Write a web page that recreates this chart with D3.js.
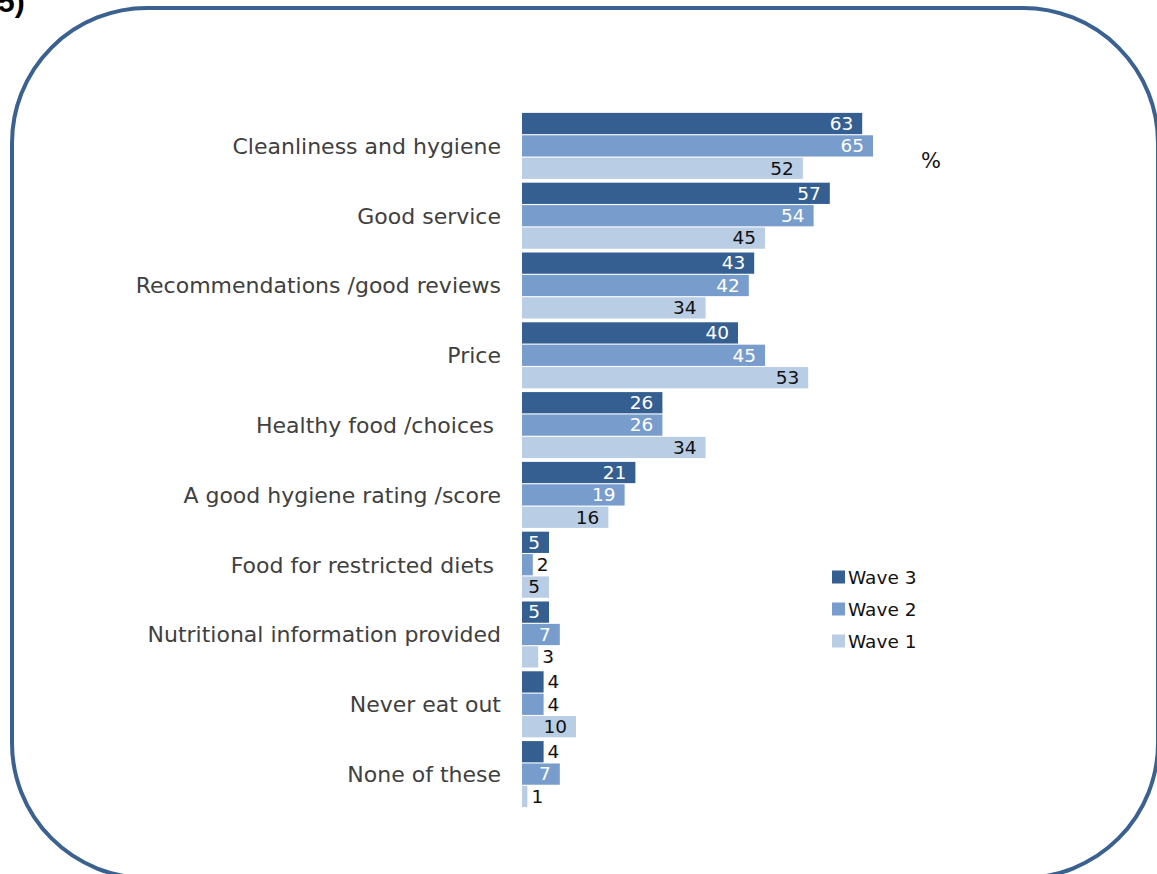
<!DOCTYPE html>
<html>
<head>
<meta charset="utf-8">
<script src="https://cdn.jsdelivr.net/npm/d3@7"></script>
<style>
	html, body { margin: 0; padding: 0; background: #fff; }
	svg { display: block; font-family: Verdana, "DejaVu Sans", sans-serif; }
</style>
</head>
<body>
<svg class="chart" width="1157" height="874"></svg>
<script>
const categories = [
	'Cleanliness and hygiene',
	'Good service',
	'Recommendations /good reviews',
	'Price',
	'Healthy food /choices ',
	'A good hygiene rating /score',
	'Food for restricted diets ',
	'Nutritional information provided',
	'Never eat out',
	'None of these'
];
const waves = ['Wave 3', 'Wave 2', 'Wave 1'];
const wave3 = [63, 57, 43, 40, 26, 21, 5, 5, 4, 4];
const wave2 = [65, 54, 42, 45, 26, 19, 2, 7, 4, 7];
const wave1 = [52, 45, 34, 53, 34, 16, 5, 3, 10, 1];

const colors = {'Wave 3': '#365f91', 'Wave 2': '#789dcc', 'Wave 1': '#b9cde5'};
const insideText = {'Wave 3': '#fff', 'Wave 2': '#fff', 'Wave 1': '#111'};

function startApp() {
	const svg = d3.select('.chart');
	const rows = categories.map((cat, i) => ({
		cat,
		values: [wave3[i], wave2[i], wave1[i]].map((v, j) => ({wave: waves[j], value: v}))
	}));

	// rounded frame
	svg.append('rect')
		.attr('x', 12).attr('y', 8)
		.attr('width', 1146).attr('height', 870)
		.attr('rx', 135).attr('ry', 135)
		.attr('fill', 'none')
		.attr('stroke', '#3a6190')
		.attr('stroke-width', 4);

	svg.append('text')
		.attr('x', -2).attr('y', 12)
		.attr('font-family', 'Arial, "Liberation Sans", sans-serif')
		.attr('font-weight', 'bold')
		.attr('font-size', 30)
		.text('5)');

	const xScale = d3.scaleLinear().domain([0, 100]).range([522, 1062]);
	const yScale = d3.scaleBand()
		.domain(categories)
		.range([111, 809])
		.paddingInner(0.054)
		.paddingOuter(0.027);
	const waveScale = d3.scaleBand()
		.domain(waves)
		.range([0, yScale.bandwidth()])
		.paddingInner(0.05);

	const group = svg.selectAll('g.group')
		.data(rows)
		.enter()
			.append('g')
			.attr('class', 'group')
			.attr('transform', d => `translate(0, ${yScale(d.cat)})`);

	group.selectAll('rect')
		.data(d => d.values)
		.enter()
			.append('rect')
			.attr('x', xScale(0))
			.attr('y', d => waveScale(d.wave))
			.attr('width', d => xScale(d.value) - xScale(0))
			.attr('height', waveScale.bandwidth())
			.attr('fill', d => colors[d.wave]);

	// value labels: inside the bar end when there is room, otherwise just past it
	group.selectAll('text.value')
		.data(d => d.values)
		.enter()
			.append('text')
			.attr('class', 'value')
			.attr('x', d => d.value >= 5 ? xScale(d.value) - 9 : xScale(d.value) + 4)
			.attr('y', d => waveScale(d.wave) + waveScale.bandwidth() / 2)
			.attr('dy', '0.34em')
			.attr('text-anchor', d => d.value >= 5 ? 'end' : 'start')
			.attr('font-size', 18.5)
			.attr('fill', d => d.value >= 5 ? insideText[d.wave] : '#111')
			.text(d => d.value);

	const yAxis = d3.axisLeft(yScale).tickSize(0).tickPadding(0);
	svg.append('g')
		.attr('transform', 'translate(501, 0)')
		.call(yAxis)
		.call(g => g.select('.domain').remove())
		.selectAll('text')
		.attr('font-family', 'Verdana, "DejaVu Sans", sans-serif')
		.attr('font-size', 22)
		.attr('fill', '#404040')
		.attr('dy', '0.36em')
		.style('white-space', 'pre');

	svg.append('text')
		.attr('x', 921).attr('y', 168)
		.attr('font-size', 21)
		.attr('fill', '#111')
		.text('%');

	const legend = svg.selectAll('g.legend')
		.data(waves)
		.enter()
			.append('g')
			.attr('class', 'legend')
			.attr('transform', (d, i) => `translate(832, ${577 + i * 32})`);
	legend.append('rect')
		.attr('x', 0).attr('y', -6.5)
		.attr('width', 13).attr('height', 13)
		.attr('fill', d => colors[d]);
	legend.append('text')
		.attr('x', 16).attr('dy', '0.36em')
		.attr('font-size', 18.5)
		.attr('fill', '#111')
		.text(d => d);
}

window.onload = startApp;
</script>
</body>
</html>
